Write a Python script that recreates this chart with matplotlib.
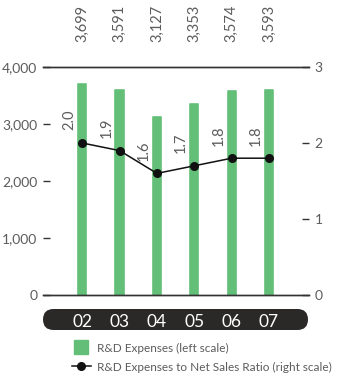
import matplotlib.pyplot as plt
from matplotlib.patches import FancyBboxPatch
from matplotlib.lines import Line2D
from matplotlib.transforms import IdentityTransform

# ============ DATA ============
years = ["02", "03", "04", "05", "06", "07"]
rd_expenses = [3699, 3591, 3127, 3353, 3574, 3593]
rd_ratio = [2.0, 1.9, 1.6, 1.7, 1.8, 1.8]

GREEN = "#63bf78"
TEXT = "#5c5c5c"
DARK = "#2b2828"

plt.rcParams["font.family"] = ["Lato", "DejaVu Sans"]

fig = plt.figure(figsize=(3.39, 3.83), dpi=100)
ax = fig.add_axes([43 / 339, 1 - 295 / 383, 266 / 339, 228 / 383])
ax2 = ax.twinx()

x = list(range(len(years)))

# bars with slightly rounded corners
ax.bar(x, rd_expenses, width=0.22, color=GREEN, edgecolor=GREEN,
       linewidth=1.2, joinstyle="round", zorder=2)
ax.set_xlim(-1.05, 6.07)
ax.set_ylim(0, 4000)
ax.set_yticks([0, 1000, 2000, 3000, 4000])
ax.set_yticklabels(["0", "1,000", "2,000", "3,000", "4,000"])

for i, v in zip(x, rd_expenses):
    ax.annotate(f"{v:,}", xy=(i, 4000), xytext=(0, 18), textcoords="offset points",
                rotation=90, ha="center", va="bottom", fontsize=10.5, color=TEXT)

# ratio line on right scale
ax2.plot(x, rd_ratio, color="#111111", lw=1.1, marker="o", ms=5.5, zorder=3)
ax2.set_ylim(0, 3)
ax2.set_yticks([0, 1, 2, 3])
for i, v in zip(x, rd_ratio):
    ax2.annotate(f"{v:.1f}", xy=(i, v), xytext=(-9.5, 9), textcoords="offset points",
                 rotation=90, ha="center", va="bottom", fontsize=10.5, color=TEXT)

for a in (ax, ax2):
    for s in ["left", "right"]:
        a.spines[s].set_visible(False)
    for s in ["top", "bottom"]:
        a.spines[s].set_color("#333333")
        a.spines[s].set_linewidth(1.0)

ax.tick_params(axis="y", direction="in", length=5, width=1, color="#333333",
               labelsize=10, labelcolor=TEXT, pad=4)
ax2.tick_params(axis="y", direction="in", length=5, width=1, color="#333333",
                labelsize=10, labelcolor=TEXT, pad=4)

# year labels sit on a dark rounded band
ax.set_xticks(x)
ax.set_xticklabels(years)
ax.tick_params(axis="x", length=0, pad=14, labelsize=12.5, labelcolor="white")
band = FancyBboxPatch((43, 383 - 330), 265, 21,
                      boxstyle="round,pad=0,rounding_size=10.5",
                      transform=IdentityTransform(), facecolor=DARK,
                      edgecolor="none", zorder=-1)
fig.add_artist(band)

handles = [
    Line2D([0], [0], color=GREEN, lw=0, marker="s", ms=9.5),
    Line2D([0], [0], color="#111111", lw=1.1, marker="o", ms=5.5),
]
fig.legend(handles, ["R&D Expenses (left scale)",
                     "R&D Expenses to Net Sales Ratio (right scale)"],
           loc="upper left", bbox_to_anchor=(72 / 339, 1 - 342 / 383),
           frameon=False, fontsize=8.5, labelcolor=TEXT, handlelength=1.6,
           handleheight=1.2, handletextpad=0.5, labelspacing=0.55,
           borderpad=0, borderaxespad=0)

fig.savefig("out.png", dpi=100)
